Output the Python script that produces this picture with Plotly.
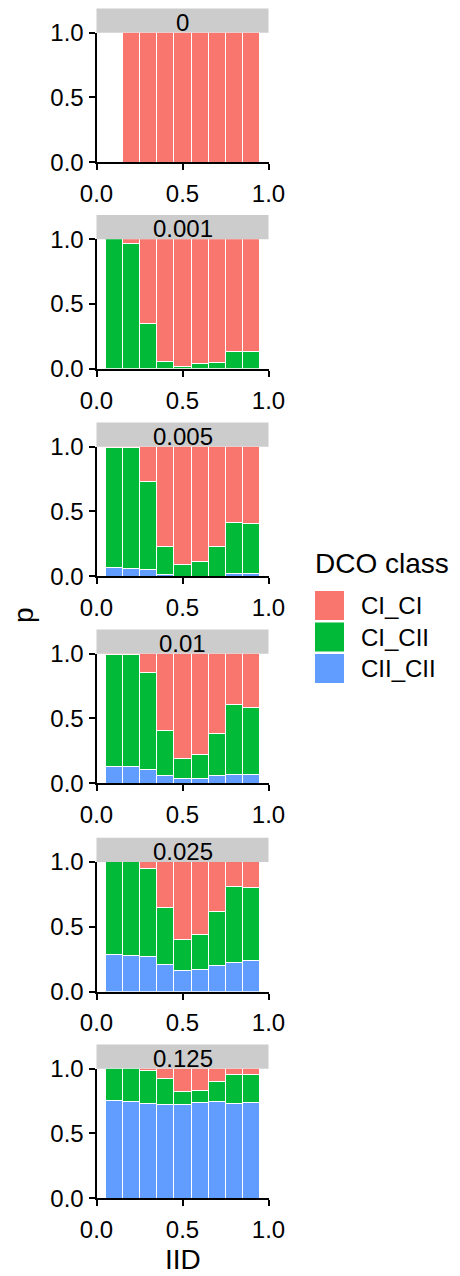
import plotly.graph_objects as go

W, H = 460, 1276

panels = ["0", "0.001", "0.005", "0.01", "0.025", "0.125"]
iid = [0.1, 0.2, 0.3, 0.4, 0.5, 0.6, 0.7, 0.8, 0.9]
classes = ["CI_CI", "CI_CII", "CII_CII"]
colors = {"CI_CI": "#F8766D", "CI_CII": "#00BA38", "CII_CII": "#619CFF"}

ci_ci = [
    [None, 1, 1, 1, 1, 1, 1, 1, 1],
    [0.0, 0.035, 0.656, 0.946, 0.985, 0.967, 0.954, 0.87, 0.875],
    [0.008, 0.008, 0.269, 0.769, 0.908, 0.885, 0.769, 0.585, 0.592],
    [0.008, 0.008, 0.146, 0.598, 0.813, 0.783, 0.621, 0.394, 0.414],
    [0.0, 0.0, 0.054, 0.353, 0.601, 0.564, 0.384, 0.193, 0.201],
    [0.0, 0.0, 0.015, 0.08, 0.178, 0.173, 0.103, 0.046, 0.046],
]
ci_cii = [
    [None, 0, 0, 0, 0, 0, 0, 0, 0],
    [1.0, 0.965, 0.344, 0.054, 0.015, 0.033, 0.046, 0.13, 0.125],
    [0.923, 0.933, 0.68, 0.216, 0.092, 0.115, 0.231, 0.395, 0.388],
    [0.867, 0.867, 0.747, 0.346, 0.156, 0.179, 0.323, 0.537, 0.517],
    [0.719, 0.727, 0.681, 0.443, 0.242, 0.271, 0.42, 0.588, 0.564],
    [0.25, 0.255, 0.256, 0.201, 0.103, 0.09, 0.152, 0.225, 0.217],
]
cii_cii = [
    [None, 0, 0, 0, 0, 0, 0, 0, 0],
    [0, 0, 0, 0, 0, 0, 0, 0, 0],
    [0.069, 0.059, 0.051, 0.015, 0.0, 0.0, 0.0, 0.02, 0.02],
    [0.125, 0.125, 0.107, 0.056, 0.031, 0.038, 0.056, 0.069, 0.069],
    [0.281, 0.273, 0.265, 0.204, 0.157, 0.165, 0.196, 0.219, 0.235],
    [0.75, 0.745, 0.729, 0.719, 0.719, 0.737, 0.745, 0.729, 0.737],
]
series = {"CII_CII": cii_cii, "CI_CII": ci_cii, "CI_CI": ci_ci}

FONT = "Liberation Sans, Arial, Helvetica, sans-serif"
TICK = 24
TITLE = 28

# pixel geometry of each panel (top of plot = value 1, bottom = value 0)
x_left, x_right = 96.5, 268.5
panel_top = [32.7, 239.3, 446.7, 653.7, 862.0, 1068.7]
panel_h = 129.5
strip_h = 24.3

fig = go.Figure()
layout = dict(
    template="none",
    width=W, height=H, margin=dict(l=0, r=0, t=0, b=0, pad=0, autoexpand=False),
    paper_bgcolor="white", plot_bgcolor="white",
    barmode="stack", bargap=0, showlegend=False,
    font=dict(family=FONT, color="black", size=TICK),
    shapes=[], annotations=[],
)

for i, pname in enumerate(panels):
    k = "" if i == 0 else str(i + 1)
    for cls in ["CII_CII", "CI_CII", "CI_CI"]:
        fig.add_trace(go.Bar(
            x=iid, y=series[cls][i], width=0.1, name=cls,
            marker=dict(color=colors[cls], line=dict(color="white", width=1)),
            xaxis="x" + k, yaxis="y" + k, showlegend=False,
        ))
    top = panel_top[i]
    bot = top + panel_h
    common = dict(
        range=[0, 1], tickvals=[0, 0.5, 1], ticktext=["0.0", "0.5", "1.0"],
        ticks="outside", ticklen=6, tickwidth=2, tickcolor="black",
        showline=True, linewidth=2, linecolor="black", showgrid=False,
        zeroline=False, tickfont=dict(size=TICK, color="black"),
        fixedrange=True, automargin=False,
    )
    layout["xaxis" + k] = dict(domain=[x_left / W, x_right / W], anchor="y" + k,
                               ticklabelstandoff=3, **common)
    layout["yaxis" + k] = dict(domain=[1 - bot / H, 1 - top / H], anchor="x" + k, **common)
    layout["shapes"].append(dict(
        type="rect", xref="paper", yref="paper",
        x0=x_left / W, x1=x_right / W,
        y0=1 - top / H, y1=1 - (top - strip_h) / H,
        fillcolor="#CCCCCC", line=dict(width=0), layer="below",
    ))
    layout["annotations"].append(dict(
        text=pname, xref="paper", yref="paper",
        x=(x_left + x_right) / 2 / W, y=1 - (top - strip_h / 2 + 1.5) / H,
        showarrow=False, font=dict(size=TICK, color="black"),
        xanchor="center", yanchor="middle",
    ))

# axis titles
layout["annotations"].append(dict(
    text="p", xref="paper", yref="paper", x=23 / W, y=1 - 615 / H,
    showarrow=False, textangle=-90, font=dict(size=TITLE),
    xanchor="center", yanchor="middle",
))
layout["annotations"].append(dict(
    text="IID", xref="paper", yref="paper", x=182.5 / W, y=0,
    showarrow=False, font=dict(size=TITLE), xanchor="center", yanchor="bottom",
    borderpad=0,
))

# legend drawn with shapes + text
layout["annotations"].append(dict(
    text="DCO class", xref="paper", yref="paper", x=313 / W, y=1 - 563 / H,
    showarrow=False, font=dict(size=TITLE), xanchor="left", yanchor="middle",
))
row_centers = [605.5, 637.0, 668.5]
for cls, yc in zip(classes, row_centers):
    layout["shapes"].append(dict(
        type="rect", xref="paper", yref="paper",
        x0=315 / W, x1=344 / W, y0=1 - (yc + 14.5) / H, y1=1 - (yc - 14.5) / H,
        fillcolor=colors[cls], line=dict(width=0),
    ))
    layout["annotations"].append(dict(
        text=cls, xref="paper", yref="paper", x=359 / W, y=1 - yc / H,
        showarrow=False, font=dict(size=TICK), xanchor="left", yanchor="middle",
    ))

fig.update_layout(**layout)
fig.write_html("out.html")
